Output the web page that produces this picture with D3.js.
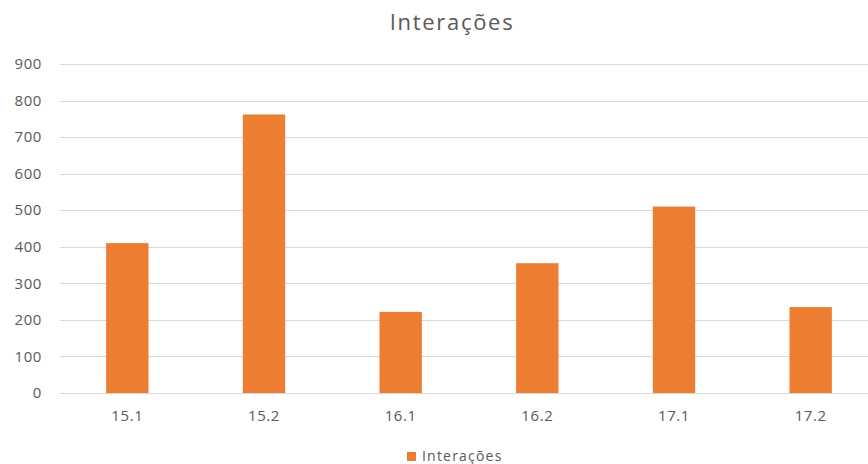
<!DOCTYPE html>
<html>
	<head>
		<script src="https://d3js.org/d3.v7.min.js" charset="utf-8"></script>
		<style type="text/css">
			body {
				margin: 0;
				background: #fff;
				font-family: "Open Sans", "Noto Sans", sans-serif;
			}
		</style>
	</head>
	<body>
		<script>
		var categories = ["15.1", "15.2", "16.1", "16.2", "17.1", "17.2"];
		var values = [410, 762, 222, 355, 510, 235];
		var yTicks = [0, 100, 200, 300, 400, 500, 600, 700, 800, 900];
		var seriesName = "Interações";

		var w = 868, h = 464;

		var svg = d3.select("body")
			.append("svg")
			.attr("width", w)
			.attr("height", h);

		var x = d3.scaleBand()
			.domain(categories)
			.range([59, 879])
			.paddingInner(0.69)
			.paddingOuter(0.345);

		var y = d3.scaleLinear()
			.domain([0, 900])
			.range([393, 64]);

		// gridlines
		svg.selectAll("line.grid")
			.data(yTicks)
			.enter()
				.append("line")
				.attr("class", "grid")
				.attr("x1", 60)
				.attr("x2", w)
				.attr("y1", function(d) { return Math.round(y(d)) + 0.5; })
				.attr("y2", function(d) { return Math.round(y(d)) + 0.5; })
				.attr("stroke", "#d9d9d9")
				.attr("stroke-width", 1);

		// y labels
		svg.selectAll("text.ytick")
			.data(yTicks)
			.enter()
				.append("text")
				.attr("class", "ytick")
				.attr("x", 42)
				.attr("y", function(d) { return y(d); })
				.attr("dy", "0.35em")
				.attr("text-anchor", "end")
				.attr("fill", "#595959")
				.attr("font-size", "15px")
				.attr("letter-spacing", "0.6px")
				.text(function(d) { return d; });

		// bars
		svg.selectAll("rect.bar")
			.data(values)
			.enter()
				.append("rect")
				.attr("class", "bar")
				.attr("x", function(d, i) { return x(categories[i]); })
				.attr("width", x.bandwidth())
				.attr("y", function(d) { return y(d); })
				.attr("height", function(d) { return y(0) - y(d); })
				.attr("fill", "#ed7d31");

		// x labels
		svg.selectAll("text.xtick")
			.data(categories)
			.enter()
				.append("text")
				.attr("class", "xtick")
				.attr("x", function(d) { return x(d) + x.bandwidth() / 2; })
				.attr("y", 421)
				.attr("text-anchor", "middle")
				.attr("fill", "#595959")
				.attr("font-size", "15px")
				.attr("letter-spacing", "0.6px")
				.text(function(d) { return d; });

		// title
		svg.append("text")
			.attr("x", 452)
			.attr("y", 30)
			.attr("text-anchor", "middle")
			.attr("fill", "#595959")
			.attr("font-size", "22px")
			.attr("letter-spacing", "1.7px")
			.text(seriesName);

		// legend
		svg.append("rect")
			.attr("x", 407)
			.attr("y", 452)
			.attr("width", 9)
			.attr("height", 9)
			.attr("fill", "#ed7d31");

		svg.append("text")
			.attr("x", 422)
			.attr("y", 461)
			.attr("fill", "#595959")
			.attr("font-size", "14px")
			.attr("letter-spacing", "1.2px")
			.text(seriesName);
		</script>
	</body>
</html>
